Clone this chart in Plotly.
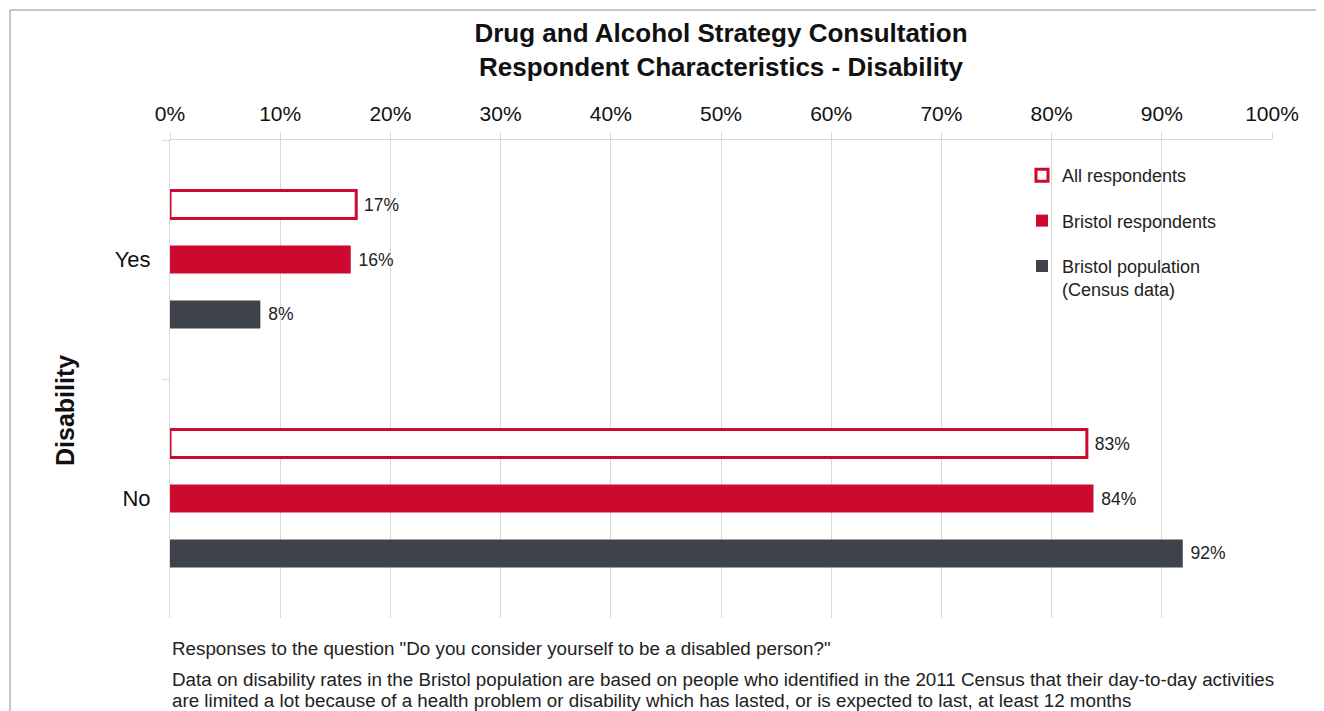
import plotly.graph_objects as go

categories = ["Yes", "No"]
series_names = ["All respondents", "Bristol respondents", "Bristol population<br>(Census data)"]
all_resp = [0.169, 0.832]
bristol_resp = [0.164, 0.838]
bristol_pop = [0.082, 0.919]
all_labels = ["17%", "83%"]
bristol_labels = ["16%", "84%"]
pop_labels = ["8%", "92%"]
x_ticks = [i / 10 for i in range(11)]
footnotes = [
    'Responses to the question "Do you consider yourself to be a disabled person?"',
    "Data on disability rates in the Bristol population are based on people who identified in the 2011 Census that their day-to-day activities",
    "are limited a lot because of a health problem or disability which has lasted, or is expected to last, at least 12 months",
]

RED = "#CC0A2F"
DARK = "#3E4249"
GRID = "#D9D9D9"
FONT = "Liberation Sans, Arial, sans-serif"

# page body has an 8px margin; work in reference pixel coordinates and shift
OFF = 8
W, H = 1324 - OFF, 711 - OFF
L = 170 - OFF
T = 140 - OFF
R = W - (1272 - OFF)
B = H - (618 - OFF)
pw = W - L - R
ph = H - T - B


def px_x(p):
    return (p - OFF - L) / pw


def px_y(p):
    return 1 - (p - OFF - T) / ph


fig = go.Figure()
fig.add_trace(go.Bar(
    y=categories, x=all_resp, orientation="h", name=series_names[0],
    marker=dict(color="white", line=dict(color=RED, width=3)),
    text=all_labels, legendgroup="a",
))
fig.add_trace(go.Bar(
    y=categories, x=bristol_resp, orientation="h", name=series_names[1],
    marker=dict(color=RED, line=dict(color=RED, width=0)),
    text=bristol_labels, legendgroup="b",
))
fig.add_trace(go.Bar(
    y=categories, x=bristol_pop, orientation="h", name=series_names[2],
    marker=dict(color=DARK, line=dict(color=DARK, width=0)),
    text=pop_labels, legendgroup="c",
))
fig.update_traces(
    texttemplate=" %{text}", textposition="outside", cliponaxis=False,
    textfont=dict(size=17.5, color="#222222", family=FONT),
    hoverinfo="skip",
)

fig.update_layout(
    width=W, height=H,
    margin=dict(l=L, r=R, t=T, b=B),
    paper_bgcolor="white", plot_bgcolor="white",
    font=dict(family=FONT, color="#111111"),
    barmode="group", bargap=0.31, bargroupgap=0.49,
    showlegend=True,
    legend=dict(
        x=px_x(1022), y=px_y(157), xanchor="left", yanchor="top",
        font=dict(size=18, color="#222222", family=FONT),
        traceorder="grouped", tracegroupgap=19, valign="top",
        bgcolor="rgba(0,0,0,0)", itemwidth=30,
    ),
    title=dict(
        text="<b>Drug and Alcohol Strategy Consultation<br>Respondent Characteristics - Disability</b>",
        x=0.5, xref="paper", y=1 - (42 - OFF) / H, yanchor="middle",
        xanchor="center",
        font=dict(size=26, color="#111111", family=FONT),
    ),
    xaxis=dict(
        side="top", range=[0, 1], tickvals=x_ticks, tickformat=".0%",
        showgrid=True, gridcolor=GRID, gridwidth=1,
        ticks="outside", ticklen=7, tickcolor=GRID,
        showline=True, linecolor=GRID, linewidth=1,
        zeroline=False, ticklabelstandoff=3,
        tickfont=dict(size=21, color="#111111", family=FONT),
        fixedrange=True,
    ),
    yaxis=dict(
        autorange="reversed", type="category",
        showline=True, linecolor=GRID, linewidth=1,
        ticks="outside", tickson="boundaries", ticklen=7, tickcolor=GRID,
        showgrid=False, ticklabelstandoff=14,
        tickfont=dict(size=22, color="#111111", family=FONT),
    ),
)

fig.add_annotation(
    text="<b>Disability</b>", textangle=-90,
    xref="paper", yref="paper", x=px_x(65), y=px_y(411),
    xanchor="center", yanchor="middle", showarrow=False,
    font=dict(size=25, color="#111111", family=FONT),
)
for txt, ypix in zip(footnotes, [648, 679, 700]):
    fig.add_annotation(
        text=txt,
        xref="paper", yref="paper", x=px_x(170), y=px_y(ypix),
        xanchor="left", yanchor="middle", showarrow=False, align="left",
        font=dict(size=18.8, color="#222222", family=FONT),
    )
fig.add_shape(
    type="rect", xref="paper", yref="paper",
    x0=px_x(10), x1=px_x(1340), y0=px_y(10), y1=px_y(730),
    line=dict(color="#8C8C8C", width=1), fillcolor="rgba(0,0,0,0)", layer="below",
)

fig.write_html("out.html")
